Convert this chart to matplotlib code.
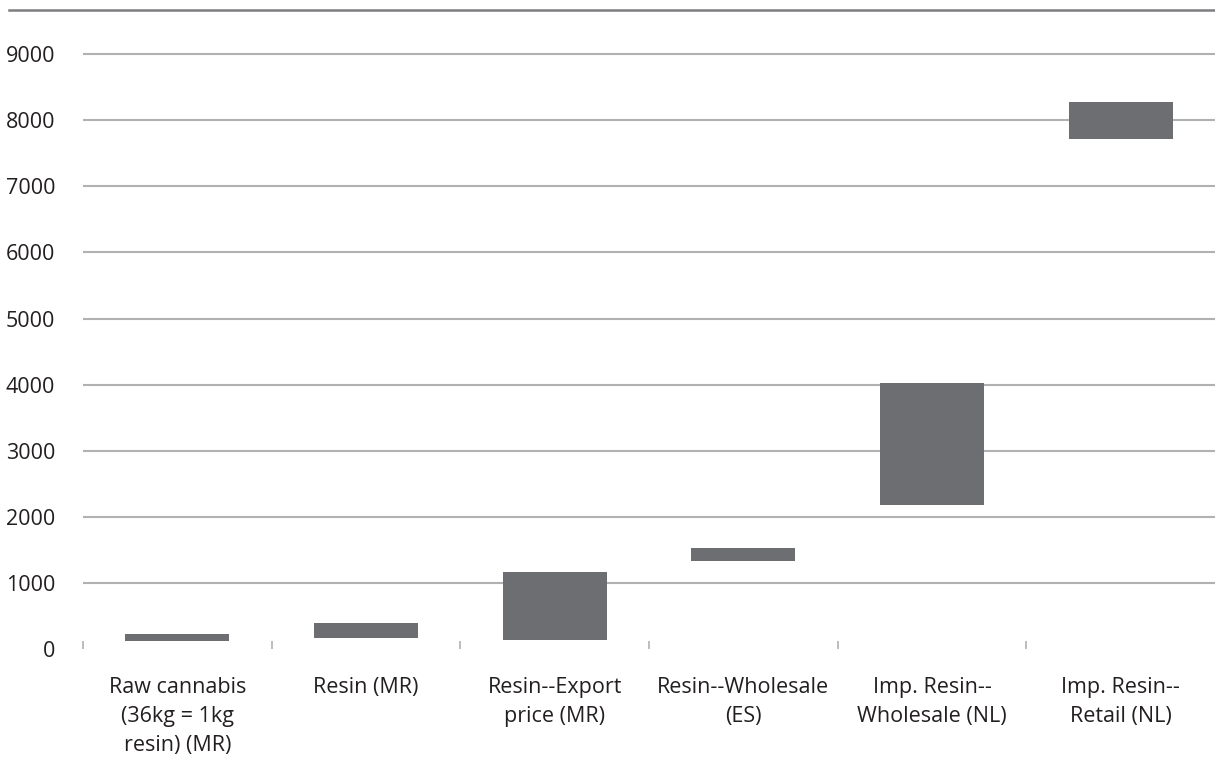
import matplotlib.pyplot as plt
from matplotlib.lines import Line2D
from matplotlib.ticker import FixedLocator

# price ranges per stage (low / high)
stages = [
    "Raw cannabis\n(36kg = 1kg\nresin) (MR)",
    "Resin (MR)",
    "Resin--Export\nprice (MR)",
    "Resin--Wholesale\n(ES)",
    "Imp. Resin--\nWholesale (NL)",
    "Imp. Resin--\nRetail (NL)",
]
low_vals = [115, 160, 140, 1330, 2180, 7720]
high_vals = [230, 395, 1165, 1525, 4020, 8275]
y_ticks = [0, 1000, 2000, 3000, 4000, 5000, 6000, 7000, 8000, 9000]

plt.rcParams['font.family'] = ['Open Sans', 'DejaVu Sans']

fig = plt.figure(figsize=(12.15, 7.58), dpi=100)
ax = fig.add_axes([83 / 1215, 1 - 649 / 758, 1 - 83 / 1215, (649 - 10) / 758])

x = range(len(stages))
heights = [h - l for l, h in zip(low_vals, high_vals)]
ax.bar(x, heights, bottom=low_vals, width=0.55, color="#6d6e71", zorder=3)

ax.set_xlim(-0.5, 5.5)
ax.set_ylim(0, (649 - 10) / 66.1 * 1000)
ax.set_yticks(y_ticks)
ax.set_yticklabels([str(v) for v in y_ticks], fontsize=15.5, color="#231f20")
ax.yaxis.grid(True, color="#b1b1b3", linewidth=1.5, zorder=0)
ax.get_ygridlines()[0].set_visible(False)  # no rule at zero
ax.tick_params(axis="y", length=0, pad=20)

ax.set_xticks(list(x))
ax.set_xticklabels(stages, fontsize=15.5, color="#231f20", linespacing=1.5)
ax.tick_params(axis="x", which="major", length=0, pad=20)
ax.xaxis.set_minor_locator(FixedLocator([i - 0.5 for i in x]))
ax.tick_params(axis="x", which="minor", direction="in", length=6,
               width=1.2, color="#b1b1b3")

for s in ax.spines.values():
    s.set_visible(False)

# dark rule along the top of the chart
fig.add_artist(Line2D([9 / 1215, 1], [1 - 10 / 758, 1 - 10 / 758],
                      color="#7d7d80", linewidth=1.8))

fig.savefig("out.png", dpi=100)
